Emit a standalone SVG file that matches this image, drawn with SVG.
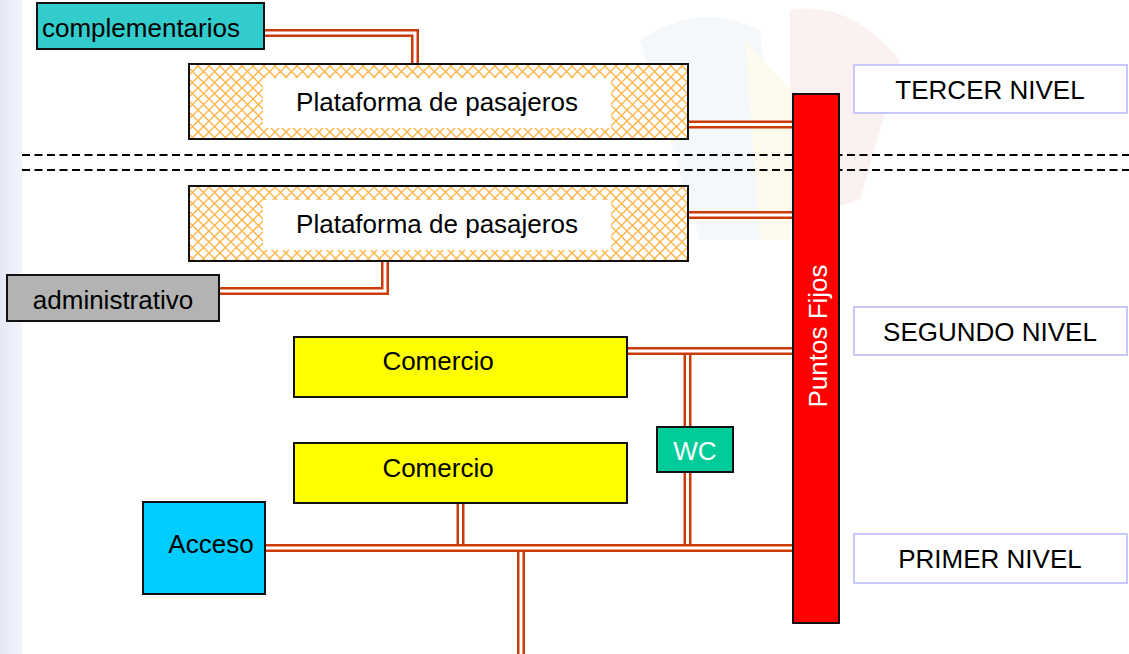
<svg xmlns="http://www.w3.org/2000/svg" width="1129" height="654" viewBox="0 0 1129 654">
<defs>
<pattern id="hatch" patternUnits="userSpaceOnUse" width="11" height="11">
<rect width="11" height="11" fill="#FFFFFF"/>
<path d="M0,0 L11,11 M11,0 L0,11" stroke="#FFB44A" stroke-width="1.4"/>
</pattern>
<linearGradient id="strip" x1="0" x2="1" y1="0" y2="0">
<stop offset="0" stop-color="#DDE3F4"/>
<stop offset="1" stop-color="#F0F2FA"/>
</linearGradient>
<style>
.t{font-family:"Liberation Sans",Arial,sans-serif;font-size:26px;fill:#000}
.box{stroke:#111;stroke-width:2}
.o{fill:none;stroke:#CC3A08;stroke-width:8}
.w{fill:none;stroke:#FFFFFF;stroke-width:3}
.lvl{fill:#FFFFFF;stroke:#C8C8FF;stroke-width:2}
.dash{stroke:#000;stroke-width:2;stroke-dasharray:8 4.5}
</style>
</defs>
<rect width="1129" height="654" fill="#FFFFFF"/>
<g id="background">
<rect x="0" y="0" width="22" height="654" fill="url(#strip)" opacity="0.8"/>
<g opacity="0.35">
<path d="M640,40 Q700,0 760,30 L780,240 L700,240 Z" fill="#E4ECF6"/>
<path d="M745,40 L790,90 L790,240 L760,240 Z" fill="#FBF3CF"/>
<path d="M790,10 Q850,0 900,60 L860,200 L790,220 Z" fill="#F4DADA"/>
</g>
</g>
<g id="dashes">
<line class="dash" x1="22" y1="155" x2="1129" y2="155"/>
<line class="dash" x1="22" y1="170" x2="1129" y2="170"/>
</g>
<g id="connectors">
<path class="o" d="M264,33 H415 V64"/><path class="w" d="M264,33 H415 V64"/>
<path class="o" d="M688,124.5 H793"/><path class="w" d="M688,124.5 H793"/>
<path class="o" d="M688,215 H793"/><path class="w" d="M688,215 H793"/>
<path class="o" d="M219,291 H385 V261"/><path class="w" d="M219,291 H385 V261"/>
<path class="o" d="M687.5,351 V427"/><path class="w" d="M687.5,351 V427"/>
<path class="o" d="M627,351 H793"/><path class="w" d="M627,351 H793"/>
<path class="o" d="M687.5,472 V548"/><path class="w" d="M687.5,472 V548"/>
<path class="o" d="M460.5,503 V548"/><path class="w" d="M460.5,503 V548"/>
<path class="o" d="M521,548 V654"/><path class="w" d="M521,548 V654"/>
<path class="o" d="M265,548 H793"/><path class="w" d="M265,548 H793"/>
</g>
<g id="complementarios">
<rect class="box" x="37" y="3" width="227" height="46" fill="#33CCCC"/>
<text class="t" x="42" y="37">complementarios</text>
</g>
<g id="plataforma3">
<rect class="box" x="189" y="64" width="499" height="75" fill="url(#hatch)"/>
<rect x="263" y="78" width="348" height="50" fill="#FFFFFF"/>
<text class="t" x="437" y="111" text-anchor="middle">Plataforma de pasajeros</text>
</g>
<g id="plataforma2">
<rect class="box" x="189" y="186" width="499" height="75" fill="url(#hatch)"/>
<rect x="263" y="200" width="348" height="50" fill="#FFFFFF"/>
<text class="t" x="437" y="233" text-anchor="middle">Plataforma de pasajeros</text>
</g>
<g id="administrativo">
<rect class="box" x="7" y="275" width="212" height="46" fill="#B3B3B3"/>
<text class="t" x="113" y="309" text-anchor="middle">administrativo</text>
</g>
<g id="comercio1">
<rect class="box" x="294" y="337" width="333" height="60" fill="#FFFF00"/>
<text class="t" x="438" y="370" text-anchor="middle">Comercio</text>
</g>
<g id="comercio2">
<rect class="box" x="294" y="443" width="333" height="60" fill="#FFFF00"/>
<text class="t" x="438" y="477" text-anchor="middle">Comercio</text>
</g>
<g id="wc">
<rect class="box" x="657" y="427" width="76" height="45" fill="#00CC99"/>
<text class="t" x="695" y="460" text-anchor="middle" style="fill:#FFFFFF">WC</text>
</g>
<g id="acceso">
<rect class="box" x="143" y="502" width="122" height="92" fill="#00CCFF"/>
<text class="t" x="211" y="553" text-anchor="middle">Acceso</text>
</g>
<g id="puntosfijos">
<rect class="box" x="793" y="94" width="46" height="529" fill="#FF0000"/>
<text class="t" transform="translate(827,336) rotate(-90)" text-anchor="middle" style="fill:#FFFFFF">Puntos Fijos</text>
</g>
<g id="tercer">
<rect class="lvl" x="854" y="65" width="273" height="48"/>
<text class="t" x="990" y="99" text-anchor="middle">TERCER NIVEL</text>
</g>
<g id="segundo">
<rect class="lvl" x="854" y="307" width="273" height="48"/>
<text class="t" x="990" y="341" text-anchor="middle">SEGUNDO NIVEL</text>
</g>
<g id="primer">
<rect class="lvl" x="854" y="534" width="273" height="49"/>
<text class="t" x="990" y="568" text-anchor="middle">PRIMER NIVEL</text>
</g>
</svg>
